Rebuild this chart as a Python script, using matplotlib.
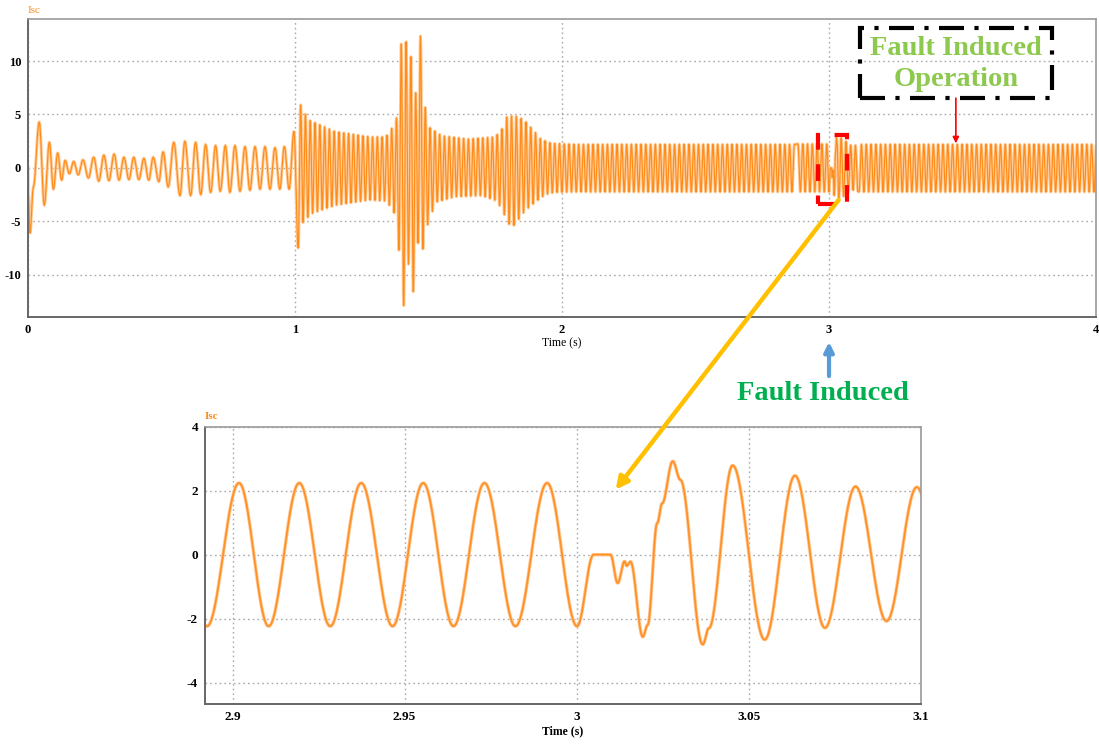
import numpy as np
import matplotlib.pyplot as plt
from matplotlib.patches import Rectangle, ConnectionPatch

plt.rcParams['font.family'] = ['Liberation Serif', 'DejaVu Serif']
plt.rcParams['axes.unicode_minus'] = False

# ---- stator current Isc, start-up (0 .. 1 s): turning points of the wave
pre_t = [0.000, 0.001, 0.0075, 0.020, 0.042, 0.061, 0.080, 0.095, 0.111, 0.126,
         0.139, 0.155, 0.171, 0.188, 0.206, 0.226, 0.246, 0.265, 0.284, 0.303,
         0.3225, 0.341, 0.359, 0.378, 0.396, 0.415, 0.434, 0.452, 0.469, 0.490,
         0.506, 0.525, 0.546, 0.569, 0.5875, 0.609, 0.6275, 0.647, 0.665, 0.684,
         0.7025, 0.720, 0.739, 0.756, 0.775, 0.794, 0.8125, 0.831, 0.850, 0.869,
         0.8875, 0.906, 0.925, 0.943, 0.960, 0.978, 0.996, 1.012]
pre_v = [0.0, -2.4, -6.1, -1.8, 4.3, -3.5, 2.4, -2.0, 1.4, -1.15,
         0.7, -0.55, 0.6, -0.65, 0.75, -0.95, 1.0, -1.25, 1.2, -1.2,
         1.3, -1.15, 1.0, -1.1, 1.0, -1.1, 0.9, -1.15, 1.0, -1.3,
         1.5, -1.8, 2.4, -2.6, 2.5, -2.6, 2.4, -2.5, 2.2, -2.3,
         2.1, -2.2, 2.1, -2.3, 2.1, -2.2, 2.0, -2.1, 2.0, -2.0,
         2.0, -2.0, 1.9, -2.0, 2.0, -2.0, 3.4, -7.5]

# ---- 1 .. 4 s: supply frequency and envelope of the oscillation
f_supply = 55.7
hi_t = [1.0, 1.021, 1.05, 1.15, 1.28, 1.34, 1.376, 1.388, 1.398, 1.416, 1.434,
        1.452, 1.470, 1.485, 1.503, 1.55, 1.65, 1.75, 1.78, 1.795, 1.832, 1.857,
        1.894, 1.92, 1.96, 2.05, 4.0]
hi_v = [3.2, 5.9, 4.5, 3.4, 2.9, 2.9, 4.2, 5.6, 11.6, 11.8, 10.4,
        7.0, 12.4, 6.0, 3.8, 3.0, 2.7, 2.9, 3.8, 4.9, 4.8, 4.5,
        3.5, 2.7, 2.3, 2.2, 2.2]
lo_t = [1.0, 1.012, 1.030, 1.06, 1.15, 1.28, 1.34, 1.37, 1.389, 1.407, 1.425,
        1.443, 1.461, 1.479, 1.50, 1.53, 1.60, 1.70, 1.757, 1.795, 1.81, 1.844,
        1.862, 1.90, 1.937, 1.97, 2.05, 4.0]
lo_v = [-2.0, -7.5, -5.1, -4.3, -3.5, -3.0, -3.1, -4.0, -7.7, -12.9, -9.0,
        -11.6, -7.0, -7.6, -4.9, -3.2, -2.7, -2.6, -3.1, -4.9, -5.7, -4.6,
        -4.0, -3.2, -2.5, -2.3, -2.25, -2.25]

# ---- detail around the fault (2.89 .. 3.1 s)
zoom_t = [2.8836, 2.8926, 2.9019, 2.9105, 2.9194, 2.9284, 2.9374, 2.9465, 2.9554,
          2.9642, 2.9732, 2.9822, 2.9914, 3.0001, 3.0049, 3.0098, 3.0119,
          3.0139, 3.0145, 3.0156, 3.0192, 3.0206, 3.0234, 3.0248, 3.0279,
          3.0301, 3.0366, 3.0384, 3.0453, 3.0546, 3.0634, 3.0721, 3.0810,
          3.0900, 3.0988, 3.1080]
zoom_v = [2.24, -2.24, 2.24, -2.24, 2.24, -2.24, 2.24, -2.24, 2.24,
          -2.24, 2.24, -2.24, 2.24, -2.24, 0.0, 0.0, -0.89,
          -0.21, -0.35, -0.22, -2.57, -2.2, 0.99, 1.6, 2.92,
          2.34, -2.81, -2.3, 2.79, -2.66, 2.47, -2.29, 2.13,
          -2.08, 2.11, -2.2]

orange = '#FF8C1A'


def smooth_wave(tk, vk, n):
    # half-cosine between successive turning points
    tk = np.asarray(tk, float)
    vk = np.asarray(vk, float)
    s = np.linspace(0, 1, n, endpoint=False)
    w = (1 - np.cos(np.pi * s)) / 2
    tt = (tk[:-1, None] + (tk[1:] - tk[:-1])[:, None] * s).ravel()
    vv = (vk[:-1, None] + (vk[1:] - vk[:-1])[:, None] * w).ravel()
    return np.append(tt, tk[-1]), np.append(vv, vk[-1])


# turning points after 1 s from the envelope, detail block spliced in
half = 0.5 / f_supply
k = np.arange(1, int((4.02 - 1.012) / half))
ext_t = 1.012 + k * half
ext_v = np.where(k % 2 == 1, np.interp(ext_t, hi_t, hi_v), np.interp(ext_t, lo_t, lo_v))
keep_a = ext_t < zoom_t[0] - half * 0.5
keep_b = ext_t > zoom_t[-1] + half * 0.5
all_t = np.concatenate([pre_t, ext_t[keep_a], zoom_t, ext_t[keep_b]])
all_v = np.concatenate([pre_v, ext_v[keep_a], zoom_v, ext_v[keep_b]])

t_full, i_full = smooth_wave(all_t, all_v, 8)
t_zoom, i_zoom = smooth_wave(zoom_t, zoom_v, 40)

fig = plt.figure(figsize=(10.99, 7.44), dpi=100)
ax1 = fig.add_axes([0.0255, 0.5743, 0.9718, 0.4001])
ax2 = fig.add_axes([0.1865, 0.0538, 0.6515, 0.3727])


def style_axes(ax, size):
    ax.grid(True, color='#aaaaaa', linestyle=(0, (1.2, 2.2)), linewidth=1.0)
    ax.set_axisbelow(True)
    ax.tick_params(length=0, pad=5, labelsize=size)
    for lab in ax.get_xticklabels() + ax.get_yticklabels():
        lab.set_fontweight('bold')
    for side in ['left', 'bottom']:
        ax.spines[side].set_color('#666666')
        ax.spines[side].set_linewidth(1.4)
    for side in ['top', 'right']:
        ax.spines[side].set_color('#9a9a9a')
        ax.spines[side].set_linewidth(1.2)


# soft halo under the trace, then the trace itself
ax1.plot(t_full, i_full, color='#FFCB96', lw=2.2)
ax1.plot(t_full, i_full, color=orange, lw=0.85)
ax1.set_xlim(0, 4)
ax1.set_ylim(-13.94, 13.94)
ax1.set_xticks([0, 1, 2, 3, 4])
ax1.set_xticklabels(['0', '1', '2', '3', '4'])
ax1.set_yticks([-10, -5, 0, 5, 10])
style_axes(ax1, 9)
ax1.set_xlabel('Time (s)', fontsize=8.5, labelpad=1)
ax1.text(0.0, 1.015, 'Isc', transform=ax1.transAxes, color=orange, fontsize=8,
         ha='left', va='bottom')

ax2.plot(t_zoom, i_zoom, color='#FFC38A', lw=2.4)
ax2.plot(t_zoom, i_zoom, color='#FF9025', lw=1.2)
ax2.set_xlim(2.892, 3.1)
ax2.set_ylim(-4.67, 4)
ax2.set_xticks([2.9, 2.95, 3.0, 3.05, 3.1])
ax2.set_xticklabels(['2.9', '2.95', '3', '3.05', '3.1'])
ax2.set_yticks([-4, -2, 0, 2, 4])
style_axes(ax2, 9.5)
ax2.set_xlabel('Time (s)', fontsize=8.5, fontweight='bold', labelpad=2)
ax2.text(0.0, 1.02, 'Isc', transform=ax2.transAxes, color=orange, fontsize=8,
         fontweight='bold', ha='left', va='bottom')

# fault window marker on the overview
ax1.add_patch(Rectangle((2.958, -3.40), 0.109, 6.46, fill=False, edgecolor='red',
                        lw=3, linestyle=(0, (4, 3.5)), clip_on=False, zorder=5))

# "Fault Induced Operation" call-out
ax1.add_patch(Rectangle((3.115, 6.53), 0.72, 6.57, fill=False, edgecolor='black',
                        lw=3, linestyle=(0, (6, 2.5, 1, 2.5)), clip_on=False, zorder=5))
ax1.text(3.475, 9.75, 'Fault Induced\nOperation', color='#8DC94F', fontsize=20.5,
         fontweight='bold', ha='center', va='center', linespacing=1.3, zorder=6)
ax1.annotate('', xy=(3.475, 2.3), xytext=(3.475, 6.53),
             arrowprops=dict(arrowstyle='-|>', color='red', lw=1.2, mutation_scale=9,
                             shrinkA=0, shrinkB=0), zorder=6)

# fault instant
ax1.annotate('', xy=(3.0, -16.3), xytext=(3.0, -19.5), annotation_clip=False,
             arrowprops=dict(arrowstyle='-|>', color='#5B9BD5', lw=3, mutation_scale=14,
                             shrinkA=0, shrinkB=0))
ax1.text(2.977, -21.1, 'Fault Induced', color='#00B050', fontsize=20.5, fontweight='bold',
         ha='center', va='center', clip_on=False)

# link overview window to the detail plot
link = ConnectionPatch(xyA=(3.036, -3.0), coordsA=ax1.transData,
                       xyB=(3.0113, 2.03), coordsB=ax2.transData,
                       arrowstyle='-|>', color='#FFC000', lw=3.2, mutation_scale=18,
                       shrinkA=0, shrinkB=0, zorder=7)
fig.add_artist(link)

fig.savefig('out.png', dpi=100)
